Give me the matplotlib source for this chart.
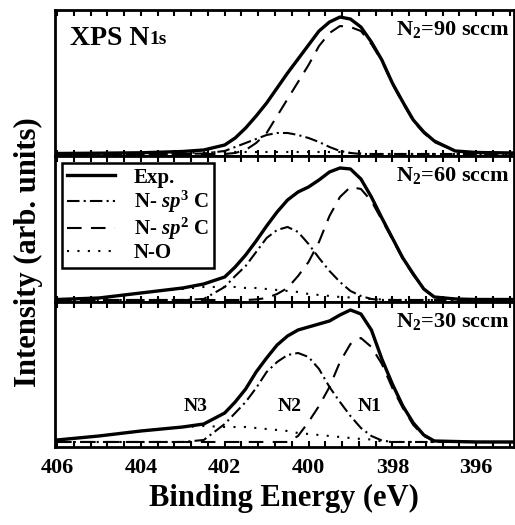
"""XPS N1s spectra of CNx films grown at three N2 flow rates."""

import matplotlib
matplotlib.use("Agg")
import matplotlib.pyplot as plt
from matplotlib.ticker import MultipleLocator

plt.rcParams["font.family"] = ["Liberation Serif", "DejaVu Serif"]
plt.rcParams["font.weight"] = "bold"
plt.rcParams["mathtext.fontset"] = "custom"
plt.rcParams["mathtext.rm"] = "Liberation Serif:bold"
plt.rcParams["mathtext.bf"] = "Liberation Serif:bold"
plt.rcParams["mathtext.it"] = "Liberation Serif:italic"

# binding energy grid (eV) shared by every curve
energy = [406, 405, 404, 403, 402.5, 402, 401.75, 401.5, 401.25, 401, 400.75,
          400.5, 400.25, 400, 399.75, 399.5, 399.25, 399, 398.75, 398.5,
          398.25, 398, 397.75, 397.5, 397.25, 397, 396.5, 396, 395.1]

# N2 = 90 sccm
exp_90 = [0.5, 0.8, 1.2, 2.5, 4, 9, 16, 26, 38, 51, 66, 81, 95, 109, 123,
          132, 137, 135, 127, 112, 94, 71, 52, 34, 22, 13, 3, 1.5, 1]
sp3_90 = [0, 0, 0, 0, 0.5, 3, 7, 11, 15, 19, 21, 21, 19, 16, 12, 7, 3, 1,
          0, 0, 0, 0, 0, 0, 0, 0, 0, 0, 0]
sp2_90 = [0, 0, 0, 0, 0, 0, 1, 4, 11, 21, 38, 55, 72, 89, 108, 121, 128,
          127, 123, 110, 93, 70, 51, 33, 21, 12, 3, 1, 0.5]
no_90 = [0, 0.5, 0.5, 1, 1.5, 2, 2, 2, 2, 2, 2, 2, 2, 2, 2, 2, 2, 1, 0.5,
         0, 0, 0, 0, 0, 0, 0, 0, 0, 0]

# N2 = 60 sccm
exp_60 = [0.5, 2, 7, 12, 16, 23, 33, 45, 59, 74, 88, 100, 108, 113, 120,
          128, 132, 131, 121, 103, 82, 62, 42, 26, 11, 3, 1, 0.5, 0.5]
sp3_60 = [0, 0, 0, 0, 1, 13, 24, 34, 48, 62, 70, 73, 68, 56, 42, 29, 18, 9,
          4, 1, 0, 0, 0, 0, 0, 0, 0, 0, 0]
sp2_60 = [0, 0, 0, 0, 0, 0, 0, 0, 0.5, 2, 6, 12, 24, 38, 58, 84, 103, 113,
          111, 99, 80, 61, 41, 25, 11, 3, 1, 0.5, 0.5]
no_60 = [0.5, 2, 7, 11, 13, 13, 13, 12, 12, 11, 10, 9, 8, 6, 5, 4, 3, 2.5,
         1.5, 1, 0.5, 0, 0, 0, 0, 0, 0, 0, 0]

# N2 = 30 sccm
exp_30 = [2, 6, 11, 15, 18, 29, 40, 53, 70, 84, 97, 106, 112, 115, 118,
          121, 127, 132, 128, 112, 83, 58, 36, 19, 7, 1, 0.5, 0, 0]
sp3_30 = [0, 0, 0, 0, 2, 18, 29, 40, 54, 70, 80, 87, 89, 85, 73, 55, 40,
          26, 14, 6, 1.5, 0, 0, 0, 0, 0, 0, 0, 0]
sp2_30 = [0, 0, 0, 0, 0, 0, 0, 0, 0, 0, 0, 0, 6, 20, 36, 55, 80, 98, 104,
          95, 78, 54, 34, 17, 6, 1, 0.5, 0, 0]
no_30 = [2, 6, 11, 15, 16, 15, 15, 15, 14, 13, 12, 11, 9, 8, 7, 6, 5, 4, 3,
         2.5, 0.5, 0, 0, 0, 0, 0, 0, 0, 0]

panels = [
    ("N$_2$=90 sccm", exp_90, sp3_90, sp2_90, no_90, (-2, 144)),
    ("N$_2$=60 sccm", exp_60, sp3_60, sp2_60, no_60, (-2, 144)),
    ("N$_2$=30 sccm", exp_30, sp3_30, sp2_30, no_30, (-5, 140)),
]

peak_names = ["N3", "N2", "N1"]
peak_pos = [402.7, 400.45, 398.55]
peak_height = [35, 35, 35]

fig = plt.figure(figsize=(5.15, 5.25), dpi=100)
left, width = 0.1068, 0.891
bottoms = [0.7029, 0.4248, 0.1486]
heights = [0.278, 0.2781, 0.2762]

axes = []
for i, (label, exp, sp3, sp2, no, ylim) in enumerate(panels):
    ax = fig.add_axes([left, bottoms[i], width, heights[i]],
                      sharex=axes[0] if axes else None)
    axes.append(ax)

    ax.plot(energy, exp, "k-", lw=2.4, label="Exp.")
    ax.plot(energy, sp3, color="k", lw=1.5, ls=(0, (6, 2, 1, 2)),
            label=r"N- $\mathit{sp}^3$ C")
    ax.plot(energy, sp2, color="k", lw=1.5, ls=(0, (7, 4.5)),
            label=r"N- $\mathit{sp}^2$ C")
    ax.plot(energy, no, color="k", lw=1.5, ls=(0, (1, 4)), label="N-O")

    ax.set_ylim(*ylim)
    ax.set_yticks([])
    ax.text(0.99, 0.865, label, transform=ax.transAxes, ha="right",
            va="center", fontsize=16, fontweight="bold")

    for sp in ax.spines.values():
        sp.set_linewidth(2)
    ax.tick_params(axis="x", which="both", direction="in", top=True,
                   bottom=True, width=1.5, labelsize=16, pad=8)
    ax.tick_params(axis="x", which="major", length=4)
    ax.tick_params(axis="x", which="minor", length=4)
    if i < 2:
        ax.tick_params(axis="x", labelbottom=False)

ax = axes[0]
ax.set_xlim(406.05, 395.1)
ax.xaxis.set_major_locator(MultipleLocator(2))
ax.xaxis.set_minor_locator(MultipleLocator(0.4))

t1 = ax.text(0.033, 0.76, "XPS N", transform=ax.transAxes, ha="left",
             va="baseline", fontsize=20, fontweight="bold")
ax.annotate("1s", xy=(1, 0.12), xycoords=t1, ha="left", va="bottom",
            fontsize=14, fontweight="bold")

leg = axes[1].legend(loc="upper left", bbox_to_anchor=(0.015, 0.955),
                     borderaxespad=0, fontsize=15, handlelength=2.3,
                     handletextpad=0.9, labelspacing=0.05, borderpad=0.25,
                     fancybox=False, framealpha=1, edgecolor="k")
leg.get_frame().set_linewidth(1.8)

for name, x, h in zip(peak_names, peak_pos, peak_height):
    axes[2].text(x, h, name, ha="center", va="center", fontsize=14,
                 fontweight="bold")

axes[2].set_xlabel("Binding Energy (eV)", fontsize=22, fontweight="bold",
                   labelpad=4)
fig.text(0.056, 0.52, "Intensity (arb. units)", rotation=90, ha="center",
         va="center", fontsize=22, fontweight="bold")

fig.savefig("out.png", dpi=100)
